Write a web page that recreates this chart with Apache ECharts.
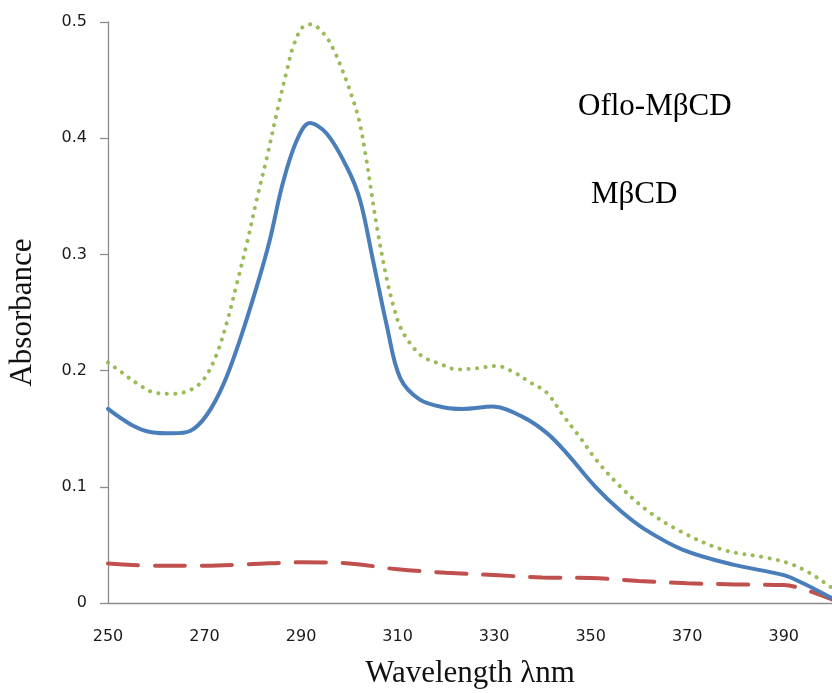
<!DOCTYPE html>
<html>
<head>
<meta charset="utf-8">
<script src="https://cdn.jsdelivr.net/npm/echarts@6/dist/echarts.min.js"></script>
<style>
  html, body { margin: 0; padding: 0; background: #ffffff; }
  #chart { width: 832px; height: 693px; }
</style>
</head>
<body>
<div id="chart"></div>
<script>
// Absorption spectra: wavelength (nm) and absorbance for each trace
const ofloWl  = [250, 255, 259, 263.5, 267, 270.5, 274, 277.3, 280.8, 283.5, 286.2, 289.1, 291.8, 295.3, 299.5, 302.2, 304.9, 307.8, 310.5, 314.6, 320, 323.5, 329.7, 336, 341, 345, 351, 356, 361, 369, 379.5, 390, 394, 400];
const ofloAbs = [0.167, 0.153, 0.147, 0.146, 0.148, 0.162, 0.189, 0.226, 0.272, 0.312, 0.361, 0.398, 0.413, 0.404, 0.375, 0.347, 0.295, 0.238, 0.194, 0.175, 0.168, 0.167, 0.169, 0.160, 0.146, 0.129, 0.100, 0.080, 0.064, 0.046, 0.033, 0.024, 0.017, 0.004];

const complexWl  = [250, 253, 256, 259.7, 263.5, 267.4, 270.1, 272.6, 274.6, 276.7, 278.8, 280.8, 283, 285.3, 287.1, 288.3, 290.2, 292, 294.9, 297, 298.4, 299.7, 301, 302, 303.4, 305.7, 307.8, 309, 310.5, 312.5, 315.2, 318.7, 322.3, 326.4, 330.5, 333.9, 337.4, 340.9, 344.2, 347.7, 351.2, 355.7, 361.6, 368, 377.3, 386.4, 391.2, 395.3, 400];
const complexAbs = [0.207, 0.198, 0.189, 0.181, 0.180, 0.184, 0.194, 0.215, 0.241, 0.275, 0.310, 0.347, 0.385, 0.428, 0.459, 0.478, 0.495, 0.498, 0.489, 0.474, 0.460, 0.446, 0.430, 0.416, 0.385, 0.324, 0.278, 0.258, 0.238, 0.224, 0.212, 0.206, 0.201, 0.202, 0.204, 0.199, 0.190, 0.181, 0.162, 0.143, 0.123, 0.102, 0.080, 0.063, 0.046, 0.039, 0.034, 0.026, 0.013];

const cdWl  = [250, 260, 270, 280, 290, 300, 310, 320, 330, 340, 350, 360, 370, 380, 390, 394, 400];
const cdAbs = [0.034, 0.032, 0.032, 0.0335, 0.035, 0.034, 0.029, 0.026, 0.024, 0.022, 0.0215, 0.019, 0.017, 0.016, 0.0155, 0.012, 0.003];

const xMin = 250, xMax = 400, xStep = 20;
const yMin = 0, yMax = 0.5, yStep = 0.1;

const labelTexts = ['Oflo-M\u03B2CD', 'M\u03B2CD'];

function pairs(xs, ys) {
  return xs.map((x, i) => [x, ys[i]]);
}

const chart = echarts.init(document.getElementById('chart'), null, { renderer: 'canvas' });

const axisColor = '#8c8c8c';
const serif = '"Liberation Serif", "DejaVu Serif", serif';

chart.setOption({
  animation: false,
  backgroundColor: '#ffffff',
  grid: { left: 108, right: 0, top: 22, bottom: 90, containLabel: false, outerBoundsMode: 'none' },
  xAxis: {
    type: 'value',
    min: xMin, max: xMax, interval: xStep,
    name: 'Wavelength \u03BBnm',
    nameLocation: 'middle',
    nameGap: 55,
    nameTextStyle: { fontFamily: serif, fontSize: 31, color: '#111' },
    axisLine: { show: true, lineStyle: { color: axisColor, width: 1.3 } },
    axisTick: { show: false },
    axisLabel: {
      margin: 26, showMaxLabel: false,
      fontFamily: '"DejaVu Sans", sans-serif', fontSize: 16, color: '#1a1a1a'
    },
    splitLine: { show: false }
  },
  yAxis: {
    type: 'value',
    min: yMin, max: yMax, interval: yStep,
    name: 'Absorbance',
    nameLocation: 'middle',
    nameGap: 70,
    nameTextStyle: { fontFamily: serif, fontSize: 31, color: '#111' },
    axisLine: { show: true, lineStyle: { color: axisColor, width: 1.3 } },
    axisTick: { show: true, inside: false, length: 8, lineStyle: { color: axisColor, width: 1.3 } },
    axisLabel: {
      margin: 21,
      fontFamily: '"DejaVu Sans", sans-serif', fontSize: 16, color: '#1a1a1a'
    },
    splitLine: { show: false }
  },
  graphic: [
    { type: 'text', left: 578, top: 91,
      style: { text: labelTexts[0], font: '31px ' + serif, fill: '#000' } },
    { type: 'text', left: 591, top: 179,
      style: { text: labelTexts[1], font: '31px ' + serif, fill: '#000' } }
  ],
  series: [
    {
      name: 'Oflo-MβCD',
      type: 'line', smooth: 0.35, showSymbol: false, clip: true,
      data: pairs(complexWl, complexAbs),
      lineStyle: { color: '#9bbb59', width: 4, type: [0.1, 8.4], cap: 'round' },
      z: 3
    },
    {
      name: 'Ofloxacin',
      type: 'line', smooth: 0.35, showSymbol: false, clip: true,
      data: pairs(ofloWl, ofloAbs),
      lineStyle: { color: '#4a7ebb', width: 4, cap: 'round' },
      z: 2
    },
    {
      name: 'MβCD',
      type: 'line', smooth: 0.35, showSymbol: false, clip: true,
      data: pairs(cdWl, cdAbs),
      lineStyle: { color: '#c0504d', width: 4, type: [30, 17], cap: 'round' },
      z: 1
    }
  ]
});
</script>
</body>
</html>
